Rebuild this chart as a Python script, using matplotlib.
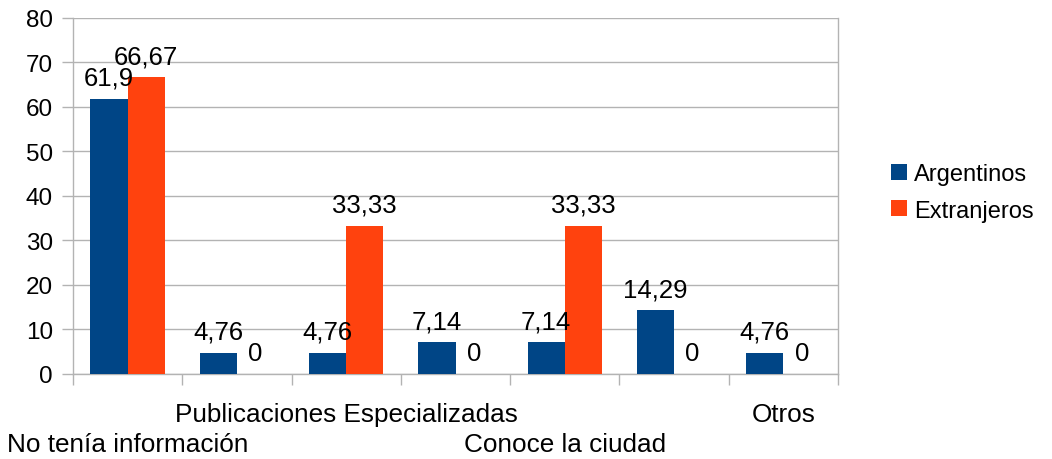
import numpy as np
import matplotlib
matplotlib.use('Agg')
import matplotlib.pyplot as plt

plt.rcParams['font.family'] = ['Liberation Sans', 'DejaVu Sans']

categories = ['No tenía información', '', 'Publicaciones Especializadas', '',
              'Conoce la ciudad', '', 'Otros']
argentinos = [61.9, 4.76, 4.76, 7.14, 7.14, 14.29, 4.76]
extranjeros = [66.67, 0, 33.33, 0, 33.33, 0, 0]
series_names = ['Argentinos', 'Extranjeros']
colors = ['#004586', '#ff420e']
grid_col = '#b3b3b3'

fig = plt.figure(figsize=(10.52, 4.6), dpi=100)
ax = fig.add_axes([0.0694, 0.1848, 0.7272, 0.7739])

x = np.arange(len(categories))
w = 0.34
bars = []
for i, (vals, name) in enumerate(zip([argentinos, extranjeros], series_names)):
    b = ax.bar(x + (i - 0.5) * w, vals, w, color=colors[i], label=name, zorder=3)
    bars.append(b)
    for rect, v in zip(b, vals):
        lab = f'{v:g}'.replace('.', ',')
        ax.annotate(lab, (rect.get_x() + rect.get_width() / 2, v),
                    xytext=(0, 10), textcoords='offset points',
                    ha='center', va='baseline', fontsize=18.5, zorder=4)

ax.set_xlim(-0.5, len(categories) - 0.5)
ax.set_ylim(0, 80)
ax.set_yticks(range(0, 81, 10))
ax.tick_params(axis='y', labelsize=17.5, length=8, color=grid_col, width=1, pad=6.5)
ax.yaxis.grid(True, color=grid_col, linewidth=1, zorder=0)

# category boundaries as ticks
ax.set_xticks(np.arange(-0.5, len(categories), 1.0))
ax.set_xticklabels([])
ax.tick_params(axis='x', length=8, color=grid_col, width=1)

ax.spines['top'].set_visible(False)
for s in ['left', 'right', 'bottom']:
    ax.spines[s].set_color(grid_col)
    ax.spines[s].set_linewidth(1)

# staggered category labels
for i, c in enumerate(categories):
    if not c:
        continue
    row = 1 if (i // 2) % 2 == 1 else 2
    yoff = -34 if row == 1 else -55.5
    ax.annotate(c, (i, 0), xycoords=('data', 'axes fraction'),
                xytext=(0, yoff), textcoords='offset points',
                ha='center', va='baseline', fontsize=18.8, annotation_clip=False)

fig.legend(handles=bars, labels=series_names, loc='center left',
           bbox_to_anchor=(0.847, 0.58), frameon=False, fontsize=17,
           handlelength=0.66, handleheight=0.66, handletextpad=0.3,
           labelspacing=0.62, borderpad=0, borderaxespad=0)

fig.savefig('out.png', dpi=100)
